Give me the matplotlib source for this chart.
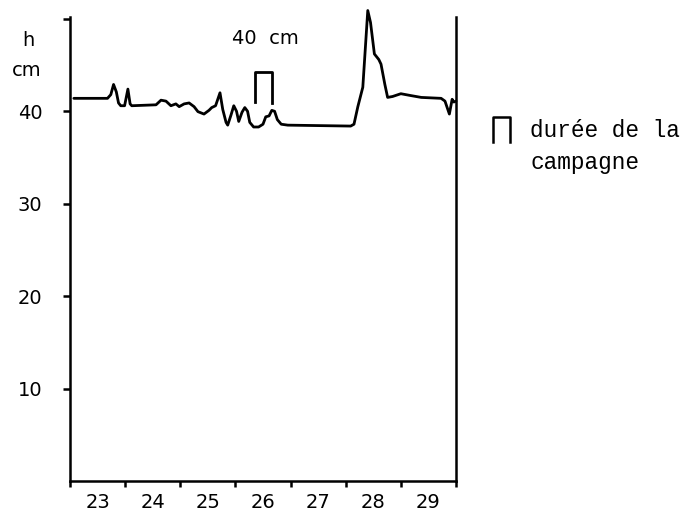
import matplotlib
matplotlib.use("Agg")
import matplotlib.pyplot as plt
from matplotlib.lines import Line2D

# ---- data (day of month, water height in cm) ----
days = [23.07, 23.68, 23.74, 23.79, 23.84, 23.88, 23.92, 23.99, 24.05, 24.09,
        24.12, 24.56, 24.65, 24.74, 24.83, 24.92, 24.98, 25.07, 25.16, 25.25,
        25.32, 25.43, 25.52, 25.57, 25.64, 25.72, 25.77, 25.83, 25.86, 25.92,
        25.97, 26.02, 26.06, 26.12, 26.17, 26.22, 26.26, 26.33, 26.42, 26.50,
        26.55, 26.61, 26.66, 26.71, 26.76, 26.83, 26.95, 28.09, 28.15, 28.22,
        28.31, 28.40, 28.45, 28.52, 28.60, 28.64, 28.71, 28.76, 28.85, 29.00,
        29.18, 29.37, 29.73, 29.80, 29.88, 29.93, 29.96, 30.00]
height = [41.4, 41.4, 41.8, 42.9, 42.1, 40.9, 40.6, 40.6, 42.4, 40.8,
          40.6, 40.7, 41.2, 41.1, 40.6, 40.8, 40.5, 40.8, 40.9, 40.5,
          39.96, 39.7, 40.1, 40.4, 40.6, 42.0, 40.2, 38.8, 38.5, 39.6,
          40.6, 40.0, 38.9, 39.9, 40.4, 40.0, 38.8, 38.3, 38.3, 38.6,
          39.4, 39.5, 40.1, 40.0, 39.1, 38.6, 38.5, 38.4, 38.6, 40.5,
          42.6, 50.9, 49.6, 46.2, 45.6, 45.1, 42.9, 41.5, 41.6, 41.9,
          41.7, 41.5, 41.4, 41.1, 39.7, 41.3, 41.0, 41.1]

# campaign duration marker
campaign_x = [26.35, 26.35, 26.66, 26.66]
campaign_y = [41.0, 44.2, 44.2, 40.9]

day_labels = ["23", "24", "25", "26", "27", "28", "29"]
y_ticks = [10, 20, 30, 40, 50]
y_labels = ["10", "20", "30", "40", ""]

W, H = 686, 519
fig = plt.figure(figsize=(W / 100, H / 100), dpi=100)
ax = fig.add_axes([70 / W, (519 - 481) / H, (456 - 70) / W, (481 - 17) / H])

ax.plot(days, height, color="black", lw=2.0, clip_on=False,
        solid_joinstyle="round", solid_capstyle="round")
ax.plot(campaign_x, campaign_y, color="black", lw=2.0, clip_on=False)
ax.text(26.55, 47.9, "40  cm", ha="center", va="center", fontsize=14,
        family="DejaVu Sans")

ax.set_xlim(23, 30)
ax.set_ylim(0, 50.2)

ax.spines["top"].set_visible(False)
for s in ("left", "bottom", "right"):
    ax.spines[s].set_linewidth(1.8)

ax.set_xticks(range(23, 31))
ax.set_xticklabels([])
ax.set_xticks([d + 0.5 for d in range(23, 30)], minor=True)
ax.set_xticklabels(day_labels, minor=True, fontsize=14)
ax.tick_params(axis="x", which="major", direction="out", length=4, width=1.8)
ax.tick_params(axis="x", which="minor", length=0, pad=9)

ax.set_yticks(y_ticks)
ax.set_yticklabels(y_labels, fontsize=14)
ax.tick_params(axis="y", direction="out", length=5, width=1.8, pad=15)

fig.text(28 / W, 1 - 41 / H, "h", ha="center", va="center", fontsize=14)
fig.text(27 / W, 1 - 71 / H, "cm", ha="center", va="center", fontsize=14)

# legend symbol
lx0, lx1, ly0, ly1 = 493 / W, 510 / W, 1 - 142 / H, 1 - 117 / H
fig.add_artist(Line2D([lx0, lx0, lx1, lx1], [ly0, ly1, ly1, ly0],
                      color="black", lw=1.8, transform=fig.transFigure))
fig.text(530 / W, 1 - 130 / H, "durée de la", ha="left", va="center",
         fontsize=16.4, family="Liberation Mono")
fig.text(530 / W, 1 - 163 / H, "campagne", ha="left", va="center",
         fontsize=16.4, family="Liberation Mono")

fig.savefig("out.png", dpi=100)
